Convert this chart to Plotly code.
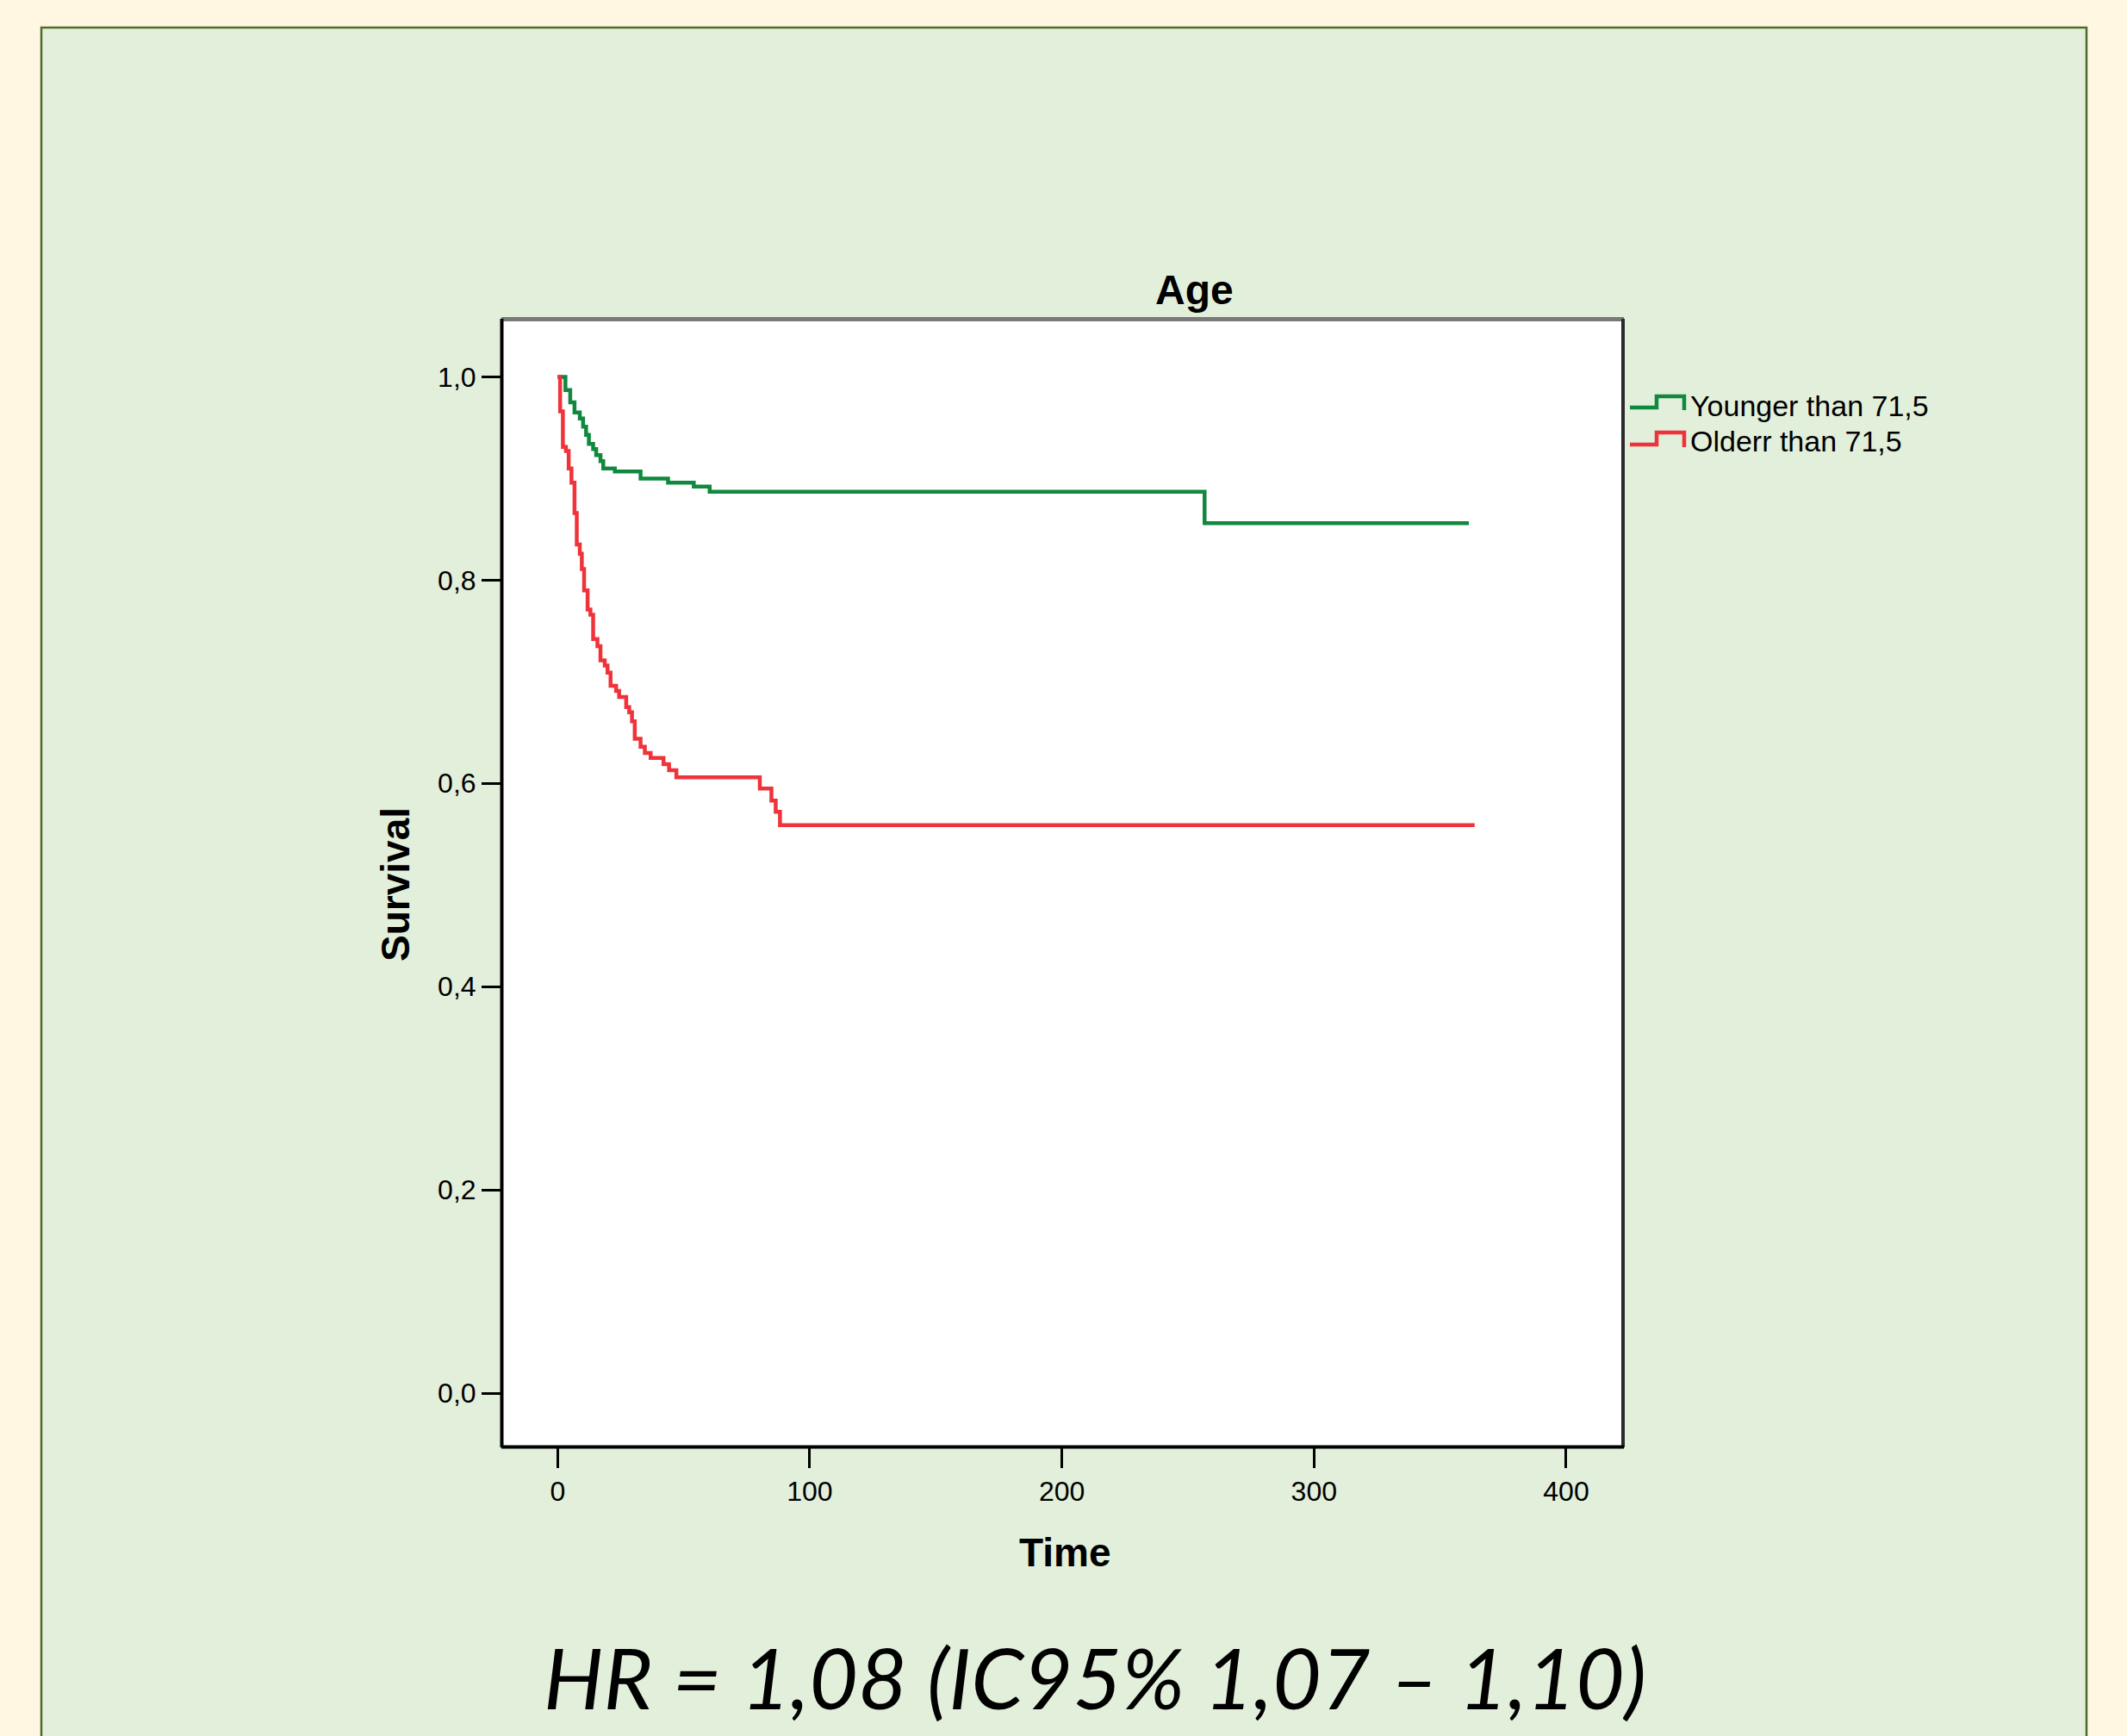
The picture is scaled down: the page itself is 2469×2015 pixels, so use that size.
import plotly.graph_objects as go

# ---------------- data ----------------
young_t = [0, 3.1, 5.0, 6.7, 8.8, 10.1, 11.3, 12.4, 14.1, 15.3, 17.0, 18.1,
           22.7, 32.9, 43.8, 54.0, 60.3, 256.6, 361.4]
young_s = [1.0, 0.987, 0.975, 0.965, 0.959, 0.951, 0.943, 0.934, 0.929, 0.923,
           0.917, 0.910, 0.907, 0.900, 0.896, 0.892, 0.887, 0.856, 0.856]

old_t = [0, 1.0, 2.1, 3.3, 4.4, 5.5, 6.7, 7.6, 8.8, 9.6, 10.5, 11.9, 13.0, 14.1,
         15.8, 17.0, 18.7, 19.8, 21.0, 23.2, 24.4, 27.2, 28.4, 29.5, 30.6, 32.9,
         34.6, 36.9, 42.0, 44.2, 47.1, 80.2, 84.8, 86.5, 88.2, 363.7]
old_s = [1.0, 0.966, 0.931, 0.927, 0.910, 0.896, 0.866, 0.835, 0.826, 0.811,
         0.790, 0.771, 0.766, 0.742, 0.735, 0.721, 0.716, 0.709, 0.696, 0.691,
         0.685, 0.675, 0.670, 0.661, 0.644, 0.636, 0.630, 0.625, 0.619, 0.613,
         0.606, 0.595, 0.583, 0.572, 0.559, 0.559]

series_names = ["Younger than 71,5", "Olderr than 71,5"]
series_colors = ["#10893E", "#EF333A"]

x_tickvals = [0, 100, 200, 300, 400]
x_ticktext = ["0", "100", "200", "300", "400"]
y_tickvals = [0.0, 0.2, 0.4, 0.6, 0.8, 1.0]
y_ticktext = ["0,0", "0,2", "0,4", "0,6", "0,8", "1,0"]

chart_title = "Age"
x_title = "Time"
y_title = "Survival"
hr_text = "HR = 1,08 (IC95% 1,07 – 1,10)"

# ---------------- layout geometry ----------------
W, H = 2469, 2015
PL, PR, PT, PB = 582, 1885, 370, 1680  # plot area in pixels


def px(xp):
    return (xp - PL) / (PR - PL)


def py(yp):
    return (PB - yp) / (PB - PT)


fig = go.Figure()
for t, s, name, col in [(young_t, young_s, series_names[0], series_colors[0]),
                        (old_t, old_s, series_names[1], series_colors[1])]:
    fig.add_trace(go.Scatter(x=t, y=s, mode="lines", name=name,
                             line=dict(color=col, width=4.5, shape="hv"),
                             showlegend=False, hoverinfo="skip"))

shapes = []
# green panel
shapes.append(dict(type="rect", xref="paper", yref="paper", layer="below",
                   x0=px(48), x1=px(2422), y0=py(2040), y1=py(32),
                   fillcolor="#E2EFDA", line=dict(color="#4F6B2A", width=2.5)))
# white plot area
shapes.append(dict(type="rect", xref="paper", yref="paper", layer="below",
                   x0=0, x1=1, y0=0, y1=1, fillcolor="white", line=dict(width=0)))
# box borders
shapes.append(dict(type="line", xref="paper", yref="paper", x0=0, x1=1, y0=py(370.5), y1=py(370.5),
                   line=dict(color="#7A7A7A", width=5)))
shapes.append(dict(type="line", xref="paper", yref="paper", x0=px(1884), x1=px(1884), y0=0, y1=1,
                   line=dict(color="#2A2A2A", width=4)))
shapes.append(dict(type="line", xref="paper", yref="paper", x0=px(582.5), x1=px(582.5), y0=0, y1=1,
                   line=dict(color="black", width=4)))
shapes.append(dict(type="line", xref="paper", yref="paper", x0=0, x1=1, y0=py(1679.5), y1=py(1679.5),
                   line=dict(color="black", width=4)))


# legend icons (step glyphs)
def step_icon(ylow, yhigh):
    pts = [(1892, ylow), (1923, ylow), (1923, yhigh), (1955, yhigh), (1955, ylow + 3)]
    return "M " + " L ".join(f"{px(a):.5f},{py(b):.5f}" for a, b in pts)


legend_rows = [(473, 460, 470), (516, 502, 511)]
annotations = []
for (ylo, yhi, yc), name, col in zip(legend_rows, series_names, series_colors):
    shapes.append(dict(type="path", xref="paper", yref="paper", path=step_icon(ylo, yhi),
                       line=dict(color=col, width=4.5)))
    annotations.append(dict(xref="paper", yref="paper", x=px(1960), y=py(yc + 1),
                            xanchor="left", yanchor="middle", showarrow=False, text=name,
                            font=dict(family="Liberation Sans, Arial", size=34, color="black")))

annotations.append(dict(xref="paper", yref="paper", x=px(1386), y=py(337), xanchor="center",
                        yanchor="middle", showarrow=False, text=f"<b>{chart_title}</b>",
                        font=dict(family="Liberation Sans, Arial", size=48, color="black")))
annotations.append(dict(xref="paper", yref="paper", x=px(1236), y=py(1802), xanchor="center",
                        yanchor="middle", showarrow=False, text=f"<b>{x_title}</b>",
                        font=dict(family="Liberation Sans, Arial", size=46, color="black")))
annotations.append(dict(xref="paper", yref="paper", x=px(459), y=py(1027), xanchor="center",
                        yanchor="middle", showarrow=False, text=f"<b>{y_title}</b>", textangle=-90,
                        font=dict(family="Liberation Sans, Arial", size=46, color="black")))
annotations.append(dict(xref="paper", yref="paper", x=px(1271), y=py(1946), xanchor="center",
                        yanchor="middle", showarrow=False, text=f"<i>{hr_text}</i>",
                        font=dict(family="Lato, Noto Sans", size=98, color="black")))

fig.update_layout(
    width=W, height=H,
    margin=dict(l=PL, r=W - PR, t=PT, b=H - PB, pad=0),
    paper_bgcolor="#FFF7E1", plot_bgcolor="white",
    shapes=shapes, annotations=annotations,
    showlegend=False,
    xaxis=dict(range=[-22.3, 422.9], tickvals=x_tickvals, ticktext=x_ticktext,
               showgrid=False, zeroline=False, showline=False,
               ticks="outside", ticklen=23, tickwidth=3, tickcolor="black",
               tickfont=dict(family="Liberation Sans, Arial", size=32, color="black")),
    yaxis=dict(range=[-0.0534, 1.0572], tickvals=y_tickvals, ticktext=y_ticktext,
               showgrid=False, zeroline=False, showline=False,
               ticks="outside", ticklen=22, tickwidth=3, tickcolor="black",
               tickfont=dict(family="Liberation Sans, Arial", size=32, color="black")),
)

fig.write_html("out.html", config={"displayModeBar": False},
               post_script="document.body.style.margin='0px';document.body.style.background='#FFF7E1';")
